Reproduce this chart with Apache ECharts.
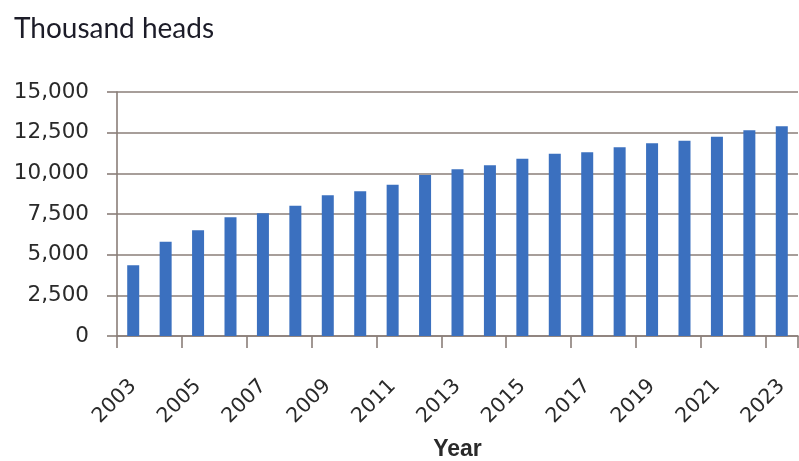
<!DOCTYPE html>
<html>
<head>
<meta charset="utf-8">
<script src="https://cdn.jsdelivr.net/npm/echarts@6/dist/echarts.min.js"></script>
<style>
  html, body { margin: 0; padding: 0; background: #ffffff; }
  #chart { width: 799px; height: 461px; }
</style>
</head>
<body>
<div id="chart"></div>
<script>
// Head count by year (thousand heads)
const years = ['2003','2004','2005','2006','2007','2008','2009','2010','2011','2012','2013',
               '2014','2015','2016','2017','2018','2019','2020','2021','2022','2023'];
const heads = [4350, 5800, 6500, 7300, 7550, 8000, 8650, 8900, 9300, 9900, 10250,
               10500, 10900, 11200, 11300, 11600, 11850, 12000, 12250, 12650, 12900];
const yTicks = { min: 0, max: 15000, step: 2500 };

const lineColor = '#8a7e78';
const textColor = '#2a2a2a';

const chart = echarts.init(document.getElementById('chart'), null, { renderer: 'canvas' });
chart.setOption({
  animation: false,
  backgroundColor: '#ffffff',
  title: {
    text: 'Thousand heads',
    left: 9,
    top: 10,
    textStyle: { fontFamily: 'Lato', fontSize: 28, fontWeight: 'normal', color: '#1c1c28' }
  },
  grid: { left: 117, right: 1, top: 92, bottom: 125, containLabel: false, outerBoundsMode: 'none' },
  xAxis: {
    type: 'category',
    data: years,
    boundaryGap: true,
    name: 'Year',
    nameLocation: 'middle',
    nameGap: 102,
    nameMoveOverlap: false,
    nameTextStyle: { fontFamily: 'Liberation Sans', fontSize: 23, fontWeight: 'bold', color: textColor },
    axisLine: { show: true, lineStyle: { color: lineColor, width: 1.6 } },
    axisTick: { show: true, interval: 1, length: 12, inside: false, lineStyle: { color: lineColor, width: 1.6 } },
    axisLabel: {
      interval: 1,
      rotate: 45,
      margin: 47,
      fontFamily: 'DejaVu Sans',
      fontSize: 20.5,
      color: textColor
    },
    splitLine: { show: false }
  },
  yAxis: {
    type: 'value',
    min: yTicks.min,
    max: yTicks.max,
    interval: yTicks.step,
    axisLine: { show: true, lineStyle: { color: lineColor, width: 1.6 } },
    axisTick: { show: true, length: 10, inside: false, lineStyle: { color: lineColor, width: 1.6 } },
    axisLabel: {
      margin: 28,
      fontFamily: 'DejaVu Sans',
      fontSize: 21.5,
      color: textColor,
      formatter: v => v.toLocaleString('en-US')
    },
    splitLine: { show: true, lineStyle: { color: lineColor, width: 1.6 } }
  },
  series: [{
    type: 'bar',
    data: heads,
    barWidth: 12,
    itemStyle: { color: '#3b70bf' }
  }]
});
</script>
</body>
</html>
